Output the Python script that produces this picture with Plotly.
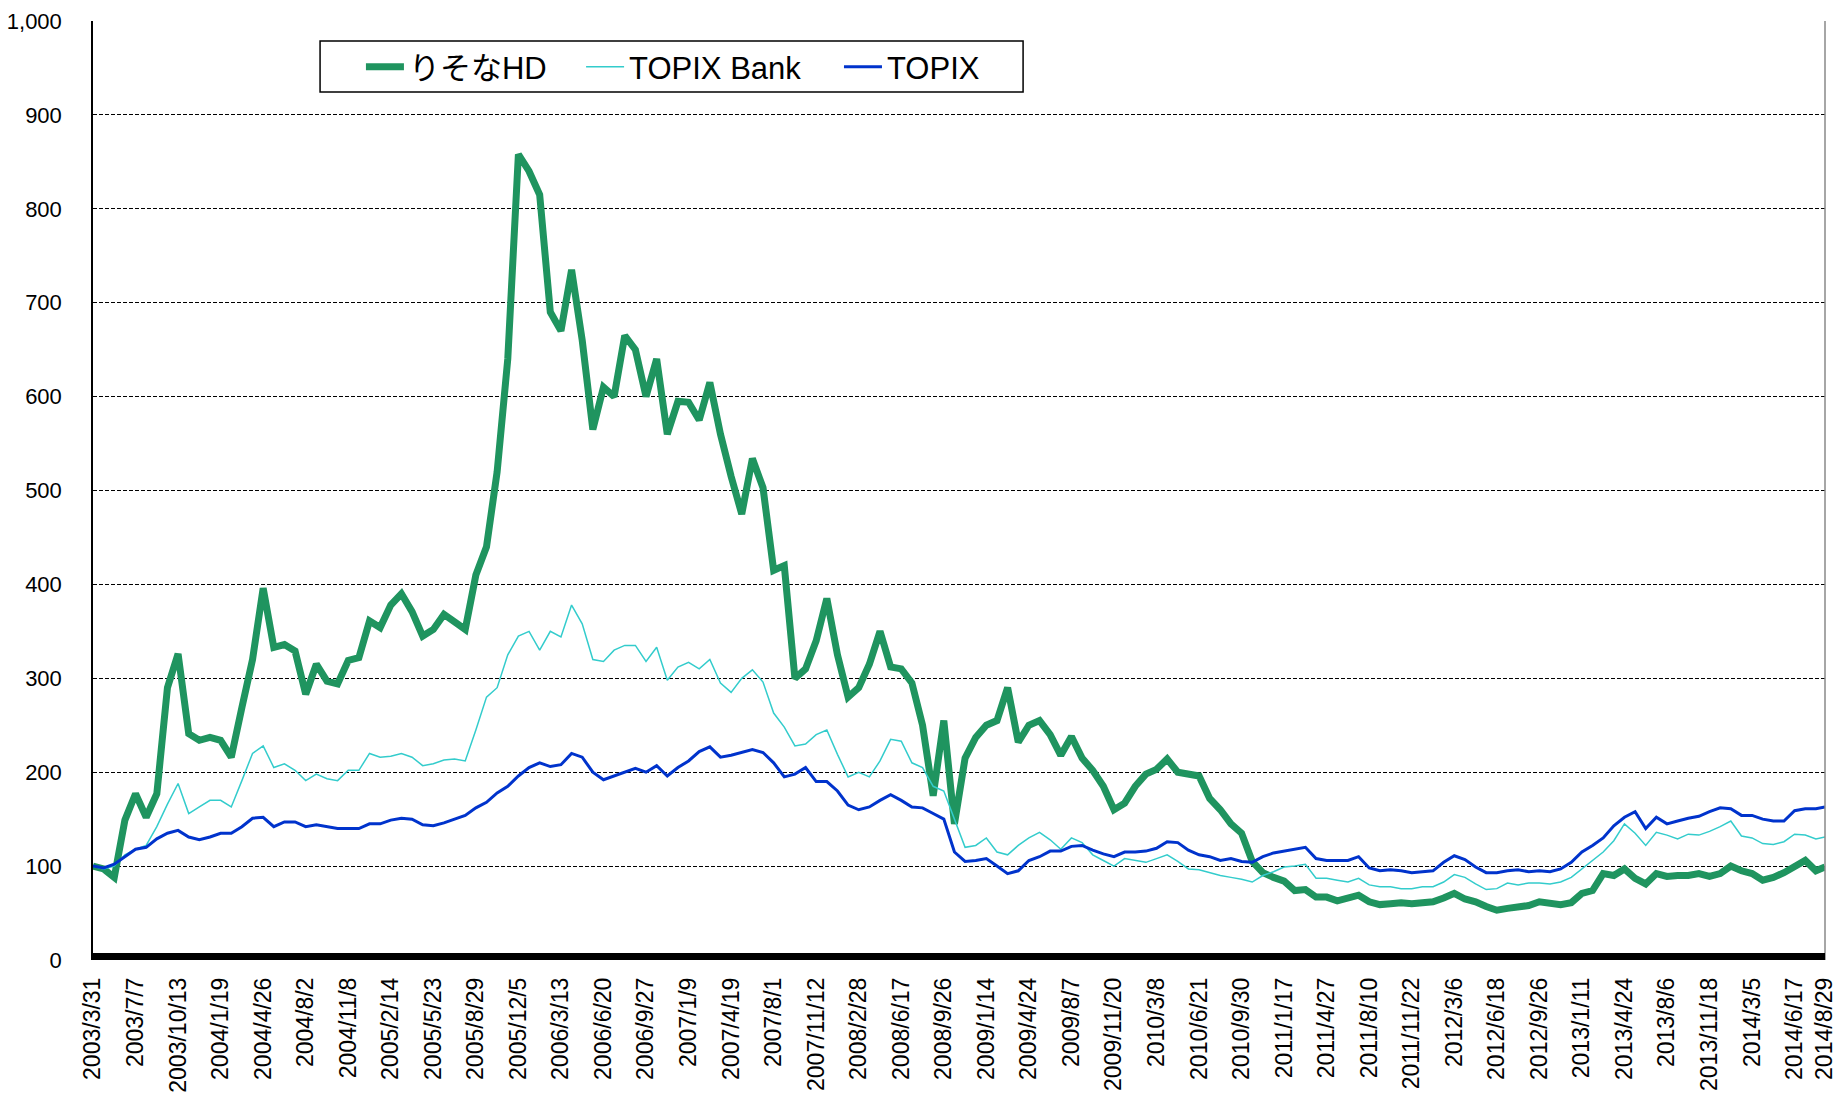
import plotly.graph_objects as go

# --- data (index = 5-trading-day period number; labels every 14 periods) ---
period = [k * 3.5 for k in range(163)] + [570]

resona = [100, 97, 88, 149, 177, 152, 177, 290, 326, 241, 234, 237, 234, 216, 269, 320, 396, 333, 336, 329,
          283, 315, 297, 294, 319, 322, 361, 354, 378, 390, 371, 345, 352, 368, 360, 352, 410, 440, 520, 640,
          858, 840, 815, 690, 670, 735, 660, 565, 610, 600, 665, 650, 600, 640, 560, 595, 594, 575, 615, 560,
          515, 475, 534, 503, 415, 420, 300, 310, 340, 385, 325, 280, 290, 315, 350, 312, 310, 295, 250, 175,
          255, 145, 215, 237, 250, 255, 290, 232, 250, 255, 240, 218, 238, 215, 202, 185, 160, 167, 185, 198,
          203, 214, 200, 198, 196, 172, 160, 145, 135, 105, 93, 88, 84, 74, 75, 67, 67, 63, 66, 69,
          62, 59, 60, 61, 60, 61, 62, 66, 71, 65, 62, 57, 53, 55, 56, 58, 62, 61, 59, 61,
          71, 74, 92, 90, 97, 87, 81, 92, 89, 90, 90, 92, 89, 92, 100, 95, 92, 85, 88, 93,
          99, 106, 95, 99]

topix_bank = [100, 97, 100, 112, 118, 122, 142, 166, 188, 156, 163, 170, 170, 163, 191, 220, 228, 205, 209, 202,
              191, 198, 193, 191, 202, 202, 220, 216, 217, 220, 216, 207, 209, 213, 214, 212, 245, 280, 290, 325,
              345, 350, 330, 350, 344, 378, 358, 320, 318, 330, 335, 335, 318, 333, 298, 312, 317, 310, 320, 295,
              285, 300, 309, 296, 263, 248, 228, 230, 240, 245, 219, 195, 200, 195, 212, 235, 233, 210, 205, 185,
              180, 150, 120, 122, 130, 115, 112, 122, 130, 136, 128, 118, 130, 125, 112, 106, 100, 108, 106, 104,
              108, 112, 105, 97, 96, 93, 90, 88, 86, 83, 90, 94, 99, 100, 102, 87, 87, 85, 83, 87,
              80, 78, 78, 76, 76, 78, 78, 83, 91, 88, 81, 75, 76, 82, 80, 82, 82, 81, 83, 88,
              97, 106, 115, 127, 145, 135, 122, 136, 133, 129, 134, 133, 137, 142, 148, 132, 130, 124, 123, 126,
              134, 133, 129, 131]

topix = [100, 98, 102, 110, 118, 120, 129, 135, 138, 131, 128, 131, 135, 135, 142, 151, 152, 142, 147, 147,
         142, 144, 142, 140, 140, 140, 145, 145, 149, 151, 150, 144, 143, 146, 150, 154, 162, 168, 178, 185,
         196, 205, 210, 206, 208, 220, 216, 200, 192, 196, 200, 204, 200, 207, 196, 205, 212, 222, 227, 216,
         218, 221, 224, 221, 210, 195, 198, 205, 190, 190, 180, 165, 160, 163, 170, 176, 170, 163, 162, 156,
         150, 115, 105, 106, 108, 100, 92, 95, 106, 110, 116, 116, 121, 122, 117, 113, 110, 115, 115, 116,
         119, 126, 125, 117, 112, 110, 106, 108, 105, 104, 110, 114, 116, 118, 120, 108, 106, 106, 106, 110,
         98, 95, 96, 95, 93, 94, 95, 104, 111, 107, 99, 93, 93, 95, 96, 94, 95, 94, 97, 104,
         115, 122, 130, 143, 152, 158, 140, 152, 145, 148, 151, 153, 158, 162, 161, 154, 154, 150, 148, 148,
         159, 161, 161, 163]

tick_pos = [14 * k for k in range(41)] + [570]
tick_text = ["2003/3/31", "2003/7/7", "2003/10/13", "2004/1/19", "2004/4/26", "2004/8/2", "2004/11/8",
             "2005/2/14", "2005/5/23", "2005/8/29", "2005/12/5", "2006/3/13", "2006/6/20", "2006/9/27",
             "2007/1/9", "2007/4/19", "2007/8/1", "2007/11/12", "2008/2/28", "2008/6/17", "2008/9/26",
             "2009/1/14", "2009/4/24", "2009/8/7", "2009/11/20", "2010/3/8", "2010/6/21", "2010/9/30",
             "2011/1/17", "2011/4/27", "2011/8/10", "2011/11/22", "2012/3/6", "2012/6/18", "2012/9/26",
             "2013/1/11", "2013/4/24", "2013/8/6", "2013/11/18", "2014/3/5", "2014/6/17", "2014/8/29"]

FONT = "Liberation Sans, Arial, Noto Sans CJK JP, sans-serif"

fig = go.Figure()
fig.add_trace(go.Scatter(x=period, y=resona, mode="lines", name="りそなHD", legend="legend",
                         line=dict(color="#1F945F", width=7)))
fig.add_trace(go.Scatter(x=period, y=topix_bank, mode="lines", name="TOPIX Bank", legend="legend2",
                         line=dict(color="#33CCCC", width=1.5)))
fig.add_trace(go.Scatter(x=period, y=topix, mode="lines", name="TOPIX", legend="legend3",
                         line=dict(color="#0033CC", width=3)))

def leg(xp):
    return dict(orientation="h", x=xp, y=0.951, xanchor="left", yanchor="middle",
                bgcolor="rgba(0,0,0,0)", borderwidth=0, itemwidth=38,
                font=dict(size=31, family=FONT, color="black"))

fig.update_layout(
    width=1840, height=1100,
    margin=dict(l=93, r=15, t=21, b=140, autoexpand=False),
    paper_bgcolor="white", plot_bgcolor="white",
    font=dict(family=FONT, color="black", size=22),
    separators=".,",
    showlegend=True,
    legend=leg(0.1547), legend2=leg(0.2818), legend3=leg(0.4307),
    xaxis=dict(range=[0, 570], tickmode="array", tickvals=tick_pos, ticktext=tick_text,
               tickangle=-90, tickfont=dict(size=23), showgrid=False, zeroline=False,
               showline=False, ticks="", ticklabelstandoff=12, automargin=False),
    yaxis=dict(range=[0, 1000], dtick=100, tickformat=",d", showgrid=True, gridcolor="black",
               gridwidth=1, griddash="4px,2px", zeroline=False, showline=True, linecolor="black",
               linewidth=1.5, ticks="", tickfont=dict(size=22), ticklabelstandoff=25,
               automargin=False),
    shapes=[
        dict(type="line", xref="paper", yref="paper", x0=1, x1=1, y0=0, y1=1,
             line=dict(color="#888888", width=1.5)),
        dict(type="rect", xref="paper", yref="y", ysizemode="pixel", yanchor=0,
             x0=0, x1=1, y0=0, y1=7, fillcolor="black", line=dict(width=0), layer="above"),
        dict(type="rect", xref="paper", yref="paper", x0=0.1311, x1=0.537, y0=0.9244, y1=0.9787,
             fillcolor="white", line=dict(color="black", width=1.5), layer="below"),
    ],
)

fig.write_html("out.html", config={"displayModeBar": False},
               post_script="document.body.style.margin='0';")
